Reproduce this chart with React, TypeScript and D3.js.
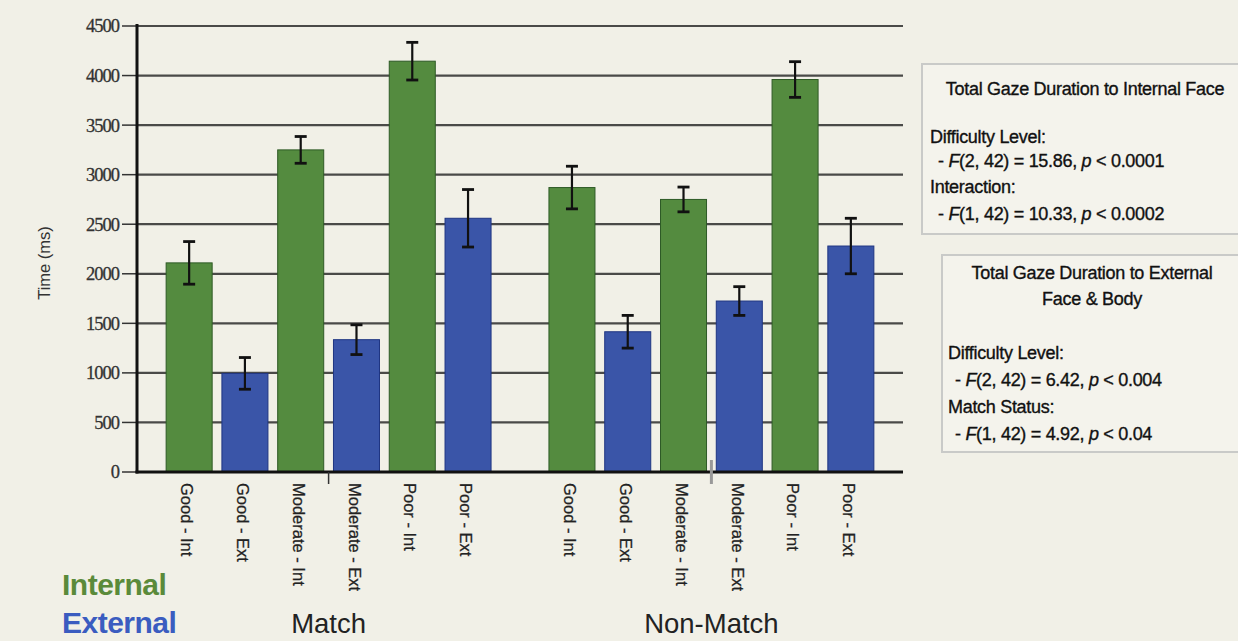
import React from "react";
import * as d3 from "d3";

const groups = ["Match", "Non-Match"];
const categories = ["Good - Int", "Good - Ext", "Moderate - Int", "Moderate - Ext", "Poor - Int", "Poor - Ext"];
const matchValues = [2110, 995, 3250, 1335, 4145, 2560];
const matchErrors = [215, 160, 135, 150, 190, 290];
const nonMatchValues = [2870, 1415, 2750, 1725, 3960, 2280];
const nonMatchErrors = [215, 165, 125, 145, 180, 280];
const yTicks = [0, 500, 1000, 1500, 2000, 2500, 3000, 3500, 4000, 4500];

const panel1Lines = [
  { kind: "title", text: "Total Gaze Duration to Internal Face" },
  { kind: "head", text: "Difficulty Level:" },
  { kind: "stat", a: "2, 42", b: "15.86", c: "< 0.0001" },
  { kind: "head", text: "Interaction:" },
  { kind: "stat", a: "1, 42", b: "10.33", c: "< 0.0002" },
];
const panel2Lines = [
  { kind: "title", text: "Total Gaze Duration to External" },
  { kind: "title", text: "Face & Body" },
  { kind: "head", text: "Difficulty Level:" },
  { kind: "stat", a: "2, 42", b: "6.42", c: "< 0.004" },
  { kind: "head", text: "Match Status:" },
  { kind: "stat", a: "1, 42", b: "4.92", c: "< 0.04" },
];

const GREEN = "#548b3f";
const GREEN_STROKE = "#2e5a26";
const BLUE = "#3a55a8";
const BLUE_STROKE = "#1f3582";
const BG = "#f1f0e7";
const SANS = "'Liberation Sans', Arial, sans-serif";
const SERIF = "'Liberation Serif', 'Times New Roman', serif";

function StatLine({ l, x, y, anchor }: any) {
  const common = {
    x,
    y,
    fontFamily: SANS,
    fontSize: 18,
    fill: "#111",
    stroke: "#111",
    strokeWidth: 0.35,
    textAnchor: anchor,
    letterSpacing: -0.3,
  };
  if (l.kind === "stat") {
    return (
      <text {...common}>
        {"- "}
        <tspan fontStyle="italic">F</tspan>
        {`(${l.a}) = ${l.b}, `}
        <tspan fontStyle="italic">p</tspan>
        {` ${l.c}`}
      </text>
    );
  }
  return <text {...common}>{l.text}</text>;
}

export default function App() {
  const W = 1238;
  const H = 641;
  const left = 137;
  const right = 903;
  const top = 26;
  const bottom = 472;

  const y = d3.scaleLinear().domain([0, 4500]).range([bottom, top]);
  const xGroup = d3.scaleBand().domain(groups).range([left, right]).paddingInner(0.125).paddingOuter(0.063);
  const xCat = d3.scaleBand().domain(categories).range([0, xGroup.bandwidth()]).paddingInner(0.175).paddingOuter(0.09);

  const series = [
    { g: groups[0], vals: matchValues, errs: matchErrors },
    { g: groups[1], vals: nonMatchValues, errs: nonMatchErrors },
  ];

  const p1x = 922, p1y = 64, p1h = 170;
  const p2x = 942, p2y = 255, p2h = 197;
  const p1Y = [95, 143, 167, 193, 220];
  const p2Y = [279, 305, 359, 386, 413, 440];

  return (
    <svg width={W} height={H} style={{ position: "absolute", left: 0, top: 0, display: "block" }}>
      <rect x={0} y={0} width={W} height={H} fill={BG} />
      {/* gridlines */}
      {yTicks.map((t) => (
        <g key={t}>
          {t > 0 && (
            <line x1={left} x2={right} y1={y(t)} y2={y(t)} stroke="#4a4a48" strokeWidth={2.2} />
          )}
          <line x1={122} x2={left} y1={y(t)} y2={y(t)} stroke="#333" strokeWidth={1.5} />
          <text
            x={119}
            y={y(t)}
            dy="0.35em"
            textAnchor="end"
            fontFamily={SERIF}
            fontSize={18.5}
            letterSpacing={-1}
            fill="#333"
            stroke="#333"
            strokeWidth={0.3}
          >
            {t}
          </text>
        </g>
      ))}
      {/* bars */}
      {series.map((s) =>
        categories.map((c, i) => {
          const x0 = (xGroup(s.g) as number) + (xCat(c) as number);
          const bw = xCat.bandwidth();
          const v = s.vals[i];
          const e = s.errs[i];
          const isInt = i % 2 === 0;
          const cx = x0 + bw / 2;
          return (
            <g key={s.g + c}>
              <rect
                x={x0}
                y={y(v)}
                width={bw}
                height={y(0) - y(v)}
                fill={isInt ? GREEN : BLUE}
                stroke={isInt ? GREEN_STROKE : BLUE_STROKE}
                strokeWidth={1}
              />
              <line x1={cx} x2={cx} y1={y(v + e)} y2={y(v - e)} stroke="#111" strokeWidth={2.2} />
              <line x1={cx - 6} x2={cx + 6} y1={y(v + e)} y2={y(v + e)} stroke="#111" strokeWidth={2.8} />
              <line x1={cx - 6} x2={cx + 6} y1={y(v - e)} y2={y(v - e)} stroke="#111" strokeWidth={2.8} />
            </g>
          );
        })
      )}
      {/* axes */}
      <line x1={left} x2={left} y1={top - 2} y2={bottom + 1.5} stroke="#111" strokeWidth={3} />
      <line x1={left - 1.5} x2={right} y1={bottom} y2={bottom} stroke="#111" strokeWidth={3} />
      {/* group separator ticks */}
      {groups.map((g, gi) => {
        const cx = (xGroup(g) as number) + xGroup.bandwidth() / 2;
        return (
          <line key={g} x1={cx} x2={cx} y1={gi === 0 ? bottom : bottom - 12} y2={bottom + 12} stroke={gi === 0 ? "#333" : "#999"} strokeWidth={gi === 0 ? 1.5 : 3} />
        );
      })}
      {/* category labels */}
      {groups.map((g) =>
        categories.map((c) => {
          const cx = (xGroup(g) as number) + (xCat(c) as number) + xCat.bandwidth() / 2;
          return (
            <text
              key={g + c}
              transform={`translate(${cx - 2},${bottom + 11}) rotate(90)`}
              fontFamily={SANS}
              fontSize={16.5}
              dy="0.35em"
              fill="#222"
              stroke="#222"
              strokeWidth={0.25}
            >
              {c}
            </text>
          );
        })
      )}
      {/* group labels */}
      {groups.map((g) => (
        <text
          key={g}
          x={(xGroup(g) as number) + xGroup.bandwidth() / 2}
          y={633}
          textAnchor="middle"
          fontFamily={SANS}
          fontSize={27.5}
          fill="#222"
        >
          {g}
        </text>
      ))}
      {/* y axis title */}
      <text
        transform="translate(50,263) rotate(-90)"
        textAnchor="middle"
        fontFamily={SANS}
        fontSize={16.5}
        fill="#333"
      >
        Time (ms)
      </text>
      {/* legend */}
      <text x={62} y={595} fontFamily={SANS} fontWeight="bold" fontSize={30} fill="#5a8a3a" letterSpacing={-0.5}>
        Internal
      </text>
      <text x={62} y={633} fontFamily={SANS} fontWeight="bold" fontSize={30} fill="#3a5cc0" letterSpacing={-0.5}>
        External
      </text>
      {/* stats panels */}
      <rect x={p1x} y={p1y} width={W - p1x + 5} height={p1h} fill="#f4f3ec" stroke="#c9cac8" strokeWidth={2} />
      {panel1Lines.map((l, i) => (
        <StatLine
          key={i}
          l={l}
          x={l.kind === "title" ? 1085 : l.kind === "head" ? 930 : 938}
          y={p1Y[i]}
          anchor={l.kind === "title" ? "middle" : "start"}
        />
      ))}
      <rect x={p2x} y={p2y} width={W - p2x + 5} height={p2h} fill="#f4f3ec" stroke="#c9cac8" strokeWidth={2} />
      {panel2Lines.map((l, i) => (
        <StatLine
          key={i}
          l={l}
          x={l.kind === "title" ? 1092 : l.kind === "head" ? 948 : 955}
          y={p2Y[i]}
          anchor={l.kind === "title" ? "middle" : "start"}
        />
      ))}
    </svg>
  );
}
